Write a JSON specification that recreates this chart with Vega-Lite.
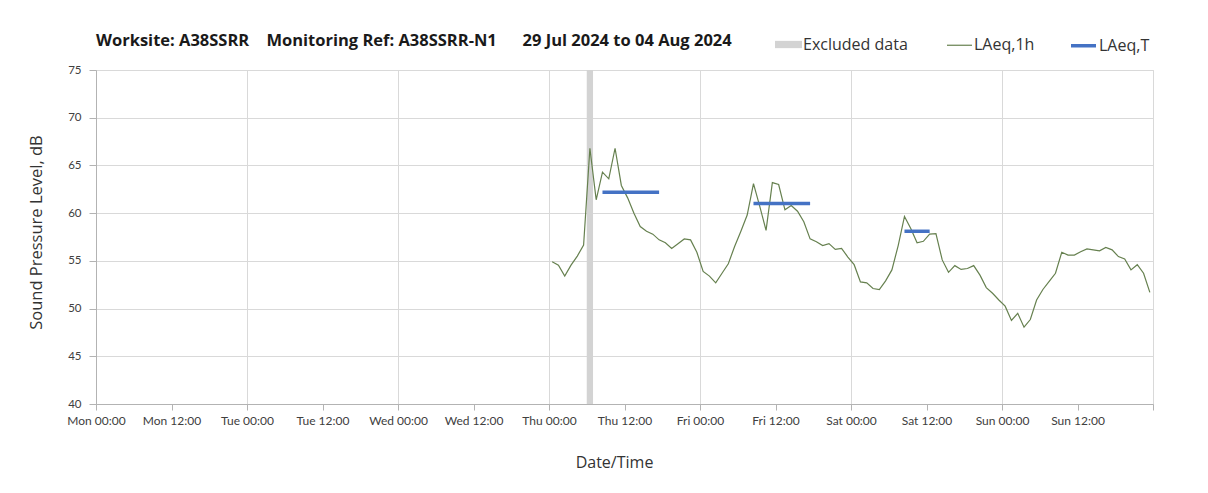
{
  "$schema": "https://vega.github.io/schema/vega-lite/v6.json",
  "width": 1057,
  "height": 334,
  "autosize": "none",
  "padding": {"left": 96, "top": 70, "right": 55, "bottom": 89},
  "background": "white",
  "title": {
    "text": "Worksite: A38SSRR\u00a0\u00a0\u00a0\u00a0Monitoring Ref: A38SSRR-N1\u00a0\u00a0\u00a0\u00a0\u00a0\u00a029 Jul 2024 to 04 Aug 2024",
    "anchor": "start",
    "frame": "group",
    "font": "Open Sans",
    "fontSize": 16.5,
    "fontWeight": "bold",
    "color": "#1a1a1a",
    "offset": 23,
    "dy": 41
  },
  "resolve": {"axis": {"x": "independent"}},
  "config": {
    "view": {"stroke": "#d9d9d9", "strokeWidth": 1},
    "axis": {
      "labelFont": "Lato",
      "labelColor": "#404040",
      "titleFont": "Open Sans",
      "titleColor": "#333333",
      "titleFontWeight": "normal",
      "gridColor": "#d9d9d9",
      "domainColor": "#b3b3b3",
      "tickColor": "#b3b3b3"
    }
  },
  "layer": [
    {
      "data": {"values": [{"start": "2024-08-01T06:00:00", "end": "2024-08-01T07:00:00", "kind": "Excluded data"}]},
      "mark": {"type": "rect"},
      "encoding": {
        "x": {
          "field": "start",
          "type": "temporal",
          "scale": {"domain": ["2024-07-29T00:00:00", "2024-08-05T00:00:00"], "nice": false},
          "axis": {
            "orient": "bottom",
            "title": "Date/Time",
            "titleFontSize": 16,
            "titlePadding": 28,
            "titleX": 518,
            "values": ["2024-07-29T00:00:00", "2024-07-29T12:00:00", "2024-07-30T00:00:00", "2024-07-30T12:00:00", "2024-07-31T00:00:00", "2024-07-31T12:00:00", "2024-08-01T00:00:00", "2024-08-01T12:00:00", "2024-08-02T00:00:00", "2024-08-02T12:00:00", "2024-08-03T00:00:00", "2024-08-03T12:00:00", "2024-08-04T00:00:00", "2024-08-04T12:00:00", "2024-08-05T00:00:00"],
            "labelExpr": "date(datum.value) === 5 ? '' : timeFormat(datum.value, '%a %H:%M')",
            "labelFontSize": 12,
            "labelFlush": false,
            "labelOverlap": false,
            "labelBound": false,
            "tickSize": 6,
            "labelPadding": 5,
            "grid": false
          }
        },
        "x2": {"field": "end"},
        "fill": {
          "field": "kind",
          "type": "nominal",
          "scale": {"domain": ["Excluded data"], "range": ["#d3d3d3"]},
          "legend": {
            "orient": "none",
            "legendX": 679,
            "legendY": -39,
            "title": null,
            "direction": "horizontal",
            "padding": 0,
            "symbolType": "M-1,-0.27H1V0.27H-1Z",
            "symbolSize": 729,
            "symbolStrokeWidth": 0,
            "labelFont": "Open Sans",
            "labelFontSize": 16,
            "labelColor": "#333333",
            "labelOffset": 1
          }
        }
      }
    },
    {
      "data": {"values": [
        {"t": "2024-08-01T00:30:00", "v": 54.9, "series": "LAeq,1h", "seg": "h"},
        {"t": "2024-08-01T01:30:00", "v": 54.55, "series": "LAeq,1h", "seg": "h"},
        {"t": "2024-08-01T02:30:00", "v": 53.4, "series": "LAeq,1h", "seg": "h"},
        {"t": "2024-08-01T03:30:00", "v": 54.55, "series": "LAeq,1h", "seg": "h"},
        {"t": "2024-08-01T04:30:00", "v": 55.5, "series": "LAeq,1h", "seg": "h"},
        {"t": "2024-08-01T05:30:00", "v": 56.65, "series": "LAeq,1h", "seg": "h"},
        {"t": "2024-08-01T06:30:00", "v": 66.8, "series": "LAeq,1h", "seg": "h"},
        {"t": "2024-08-01T07:30:00", "v": 61.4, "series": "LAeq,1h", "seg": "h"},
        {"t": "2024-08-01T08:30:00", "v": 64.3, "series": "LAeq,1h", "seg": "h"},
        {"t": "2024-08-01T09:30:00", "v": 63.6, "series": "LAeq,1h", "seg": "h"},
        {"t": "2024-08-01T10:30:00", "v": 66.8, "series": "LAeq,1h", "seg": "h"},
        {"t": "2024-08-01T11:30:00", "v": 62.9, "series": "LAeq,1h", "seg": "h"},
        {"t": "2024-08-01T12:30:00", "v": 61.6, "series": "LAeq,1h", "seg": "h"},
        {"t": "2024-08-01T13:30:00", "v": 60.0, "series": "LAeq,1h", "seg": "h"},
        {"t": "2024-08-01T14:30:00", "v": 58.6, "series": "LAeq,1h", "seg": "h"},
        {"t": "2024-08-01T15:30:00", "v": 58.1, "series": "LAeq,1h", "seg": "h"},
        {"t": "2024-08-01T16:30:00", "v": 57.8, "series": "LAeq,1h", "seg": "h"},
        {"t": "2024-08-01T17:30:00", "v": 57.2, "series": "LAeq,1h", "seg": "h"},
        {"t": "2024-08-01T18:30:00", "v": 56.9, "series": "LAeq,1h", "seg": "h"},
        {"t": "2024-08-01T19:30:00", "v": 56.3, "series": "LAeq,1h", "seg": "h"},
        {"t": "2024-08-01T20:30:00", "v": 56.8, "series": "LAeq,1h", "seg": "h"},
        {"t": "2024-08-01T21:30:00", "v": 57.3, "series": "LAeq,1h", "seg": "h"},
        {"t": "2024-08-01T22:30:00", "v": 57.2, "series": "LAeq,1h", "seg": "h"},
        {"t": "2024-08-01T23:30:00", "v": 55.9, "series": "LAeq,1h", "seg": "h"},
        {"t": "2024-08-02T00:30:00", "v": 53.9, "series": "LAeq,1h", "seg": "h"},
        {"t": "2024-08-02T01:30:00", "v": 53.4, "series": "LAeq,1h", "seg": "h"},
        {"t": "2024-08-02T02:30:00", "v": 52.7, "series": "LAeq,1h", "seg": "h"},
        {"t": "2024-08-02T03:30:00", "v": 53.7, "series": "LAeq,1h", "seg": "h"},
        {"t": "2024-08-02T04:30:00", "v": 54.7, "series": "LAeq,1h", "seg": "h"},
        {"t": "2024-08-02T05:30:00", "v": 56.5, "series": "LAeq,1h", "seg": "h"},
        {"t": "2024-08-02T06:30:00", "v": 58.1, "series": "LAeq,1h", "seg": "h"},
        {"t": "2024-08-02T07:30:00", "v": 59.8, "series": "LAeq,1h", "seg": "h"},
        {"t": "2024-08-02T08:30:00", "v": 63.1, "series": "LAeq,1h", "seg": "h"},
        {"t": "2024-08-02T09:30:00", "v": 60.7, "series": "LAeq,1h", "seg": "h"},
        {"t": "2024-08-02T10:30:00", "v": 58.2, "series": "LAeq,1h", "seg": "h"},
        {"t": "2024-08-02T11:30:00", "v": 63.2, "series": "LAeq,1h", "seg": "h"},
        {"t": "2024-08-02T12:30:00", "v": 63.0, "series": "LAeq,1h", "seg": "h"},
        {"t": "2024-08-02T13:30:00", "v": 60.35, "series": "LAeq,1h", "seg": "h"},
        {"t": "2024-08-02T14:30:00", "v": 60.8, "series": "LAeq,1h", "seg": "h"},
        {"t": "2024-08-02T15:30:00", "v": 60.2, "series": "LAeq,1h", "seg": "h"},
        {"t": "2024-08-02T16:30:00", "v": 59.1, "series": "LAeq,1h", "seg": "h"},
        {"t": "2024-08-02T17:30:00", "v": 57.3, "series": "LAeq,1h", "seg": "h"},
        {"t": "2024-08-02T18:30:00", "v": 57.0, "series": "LAeq,1h", "seg": "h"},
        {"t": "2024-08-02T19:30:00", "v": 56.6, "series": "LAeq,1h", "seg": "h"},
        {"t": "2024-08-02T20:30:00", "v": 56.8, "series": "LAeq,1h", "seg": "h"},
        {"t": "2024-08-02T21:30:00", "v": 56.2, "series": "LAeq,1h", "seg": "h"},
        {"t": "2024-08-02T22:30:00", "v": 56.3, "series": "LAeq,1h", "seg": "h"},
        {"t": "2024-08-02T23:30:00", "v": 55.4, "series": "LAeq,1h", "seg": "h"},
        {"t": "2024-08-03T00:30:00", "v": 54.6, "series": "LAeq,1h", "seg": "h"},
        {"t": "2024-08-03T01:30:00", "v": 52.8, "series": "LAeq,1h", "seg": "h"},
        {"t": "2024-08-03T02:30:00", "v": 52.7, "series": "LAeq,1h", "seg": "h"},
        {"t": "2024-08-03T03:30:00", "v": 52.1, "series": "LAeq,1h", "seg": "h"},
        {"t": "2024-08-03T04:30:00", "v": 52.0, "series": "LAeq,1h", "seg": "h"},
        {"t": "2024-08-03T05:30:00", "v": 52.9, "series": "LAeq,1h", "seg": "h"},
        {"t": "2024-08-03T06:30:00", "v": 54.05, "series": "LAeq,1h", "seg": "h"},
        {"t": "2024-08-03T07:30:00", "v": 56.6, "series": "LAeq,1h", "seg": "h"},
        {"t": "2024-08-03T08:30:00", "v": 59.65, "series": "LAeq,1h", "seg": "h"},
        {"t": "2024-08-03T09:30:00", "v": 58.4, "series": "LAeq,1h", "seg": "h"},
        {"t": "2024-08-03T10:30:00", "v": 56.9, "series": "LAeq,1h", "seg": "h"},
        {"t": "2024-08-03T11:30:00", "v": 57.05, "series": "LAeq,1h", "seg": "h"},
        {"t": "2024-08-03T12:30:00", "v": 57.8, "series": "LAeq,1h", "seg": "h"},
        {"t": "2024-08-03T13:30:00", "v": 57.85, "series": "LAeq,1h", "seg": "h"},
        {"t": "2024-08-03T14:30:00", "v": 55.1, "series": "LAeq,1h", "seg": "h"},
        {"t": "2024-08-03T15:30:00", "v": 53.8, "series": "LAeq,1h", "seg": "h"},
        {"t": "2024-08-03T16:30:00", "v": 54.5, "series": "LAeq,1h", "seg": "h"},
        {"t": "2024-08-03T17:30:00", "v": 54.1, "series": "LAeq,1h", "seg": "h"},
        {"t": "2024-08-03T18:30:00", "v": 54.2, "series": "LAeq,1h", "seg": "h"},
        {"t": "2024-08-03T19:30:00", "v": 54.5, "series": "LAeq,1h", "seg": "h"},
        {"t": "2024-08-03T20:30:00", "v": 53.5, "series": "LAeq,1h", "seg": "h"},
        {"t": "2024-08-03T21:30:00", "v": 52.2, "series": "LAeq,1h", "seg": "h"},
        {"t": "2024-08-03T22:30:00", "v": 51.6, "series": "LAeq,1h", "seg": "h"},
        {"t": "2024-08-03T23:30:00", "v": 50.9, "series": "LAeq,1h", "seg": "h"},
        {"t": "2024-08-04T00:30:00", "v": 50.25, "series": "LAeq,1h", "seg": "h"},
        {"t": "2024-08-04T01:30:00", "v": 48.75, "series": "LAeq,1h", "seg": "h"},
        {"t": "2024-08-04T02:30:00", "v": 49.5, "series": "LAeq,1h", "seg": "h"},
        {"t": "2024-08-04T03:30:00", "v": 48.05, "series": "LAeq,1h", "seg": "h"},
        {"t": "2024-08-04T04:30:00", "v": 48.85, "series": "LAeq,1h", "seg": "h"},
        {"t": "2024-08-04T05:30:00", "v": 50.9, "series": "LAeq,1h", "seg": "h"},
        {"t": "2024-08-04T06:30:00", "v": 52.0, "series": "LAeq,1h", "seg": "h"},
        {"t": "2024-08-04T07:30:00", "v": 52.85, "series": "LAeq,1h", "seg": "h"},
        {"t": "2024-08-04T08:30:00", "v": 53.7, "series": "LAeq,1h", "seg": "h"},
        {"t": "2024-08-04T09:30:00", "v": 55.9, "series": "LAeq,1h", "seg": "h"},
        {"t": "2024-08-04T10:30:00", "v": 55.6, "series": "LAeq,1h", "seg": "h"},
        {"t": "2024-08-04T11:30:00", "v": 55.6, "series": "LAeq,1h", "seg": "h"},
        {"t": "2024-08-04T12:30:00", "v": 55.95, "series": "LAeq,1h", "seg": "h"},
        {"t": "2024-08-04T13:30:00", "v": 56.25, "series": "LAeq,1h", "seg": "h"},
        {"t": "2024-08-04T14:30:00", "v": 56.15, "series": "LAeq,1h", "seg": "h"},
        {"t": "2024-08-04T15:30:00", "v": 56.05, "series": "LAeq,1h", "seg": "h"},
        {"t": "2024-08-04T16:30:00", "v": 56.4, "series": "LAeq,1h", "seg": "h"},
        {"t": "2024-08-04T17:30:00", "v": 56.15, "series": "LAeq,1h", "seg": "h"},
        {"t": "2024-08-04T18:30:00", "v": 55.45, "series": "LAeq,1h", "seg": "h"},
        {"t": "2024-08-04T19:30:00", "v": 55.2, "series": "LAeq,1h", "seg": "h"},
        {"t": "2024-08-04T20:30:00", "v": 54.05, "series": "LAeq,1h", "seg": "h"},
        {"t": "2024-08-04T21:30:00", "v": 54.6, "series": "LAeq,1h", "seg": "h"},
        {"t": "2024-08-04T22:30:00", "v": 53.7, "series": "LAeq,1h", "seg": "h"},
        {"t": "2024-08-04T23:30:00", "v": 51.7, "series": "LAeq,1h", "seg": "h"},
        {"t": "2024-08-01T08:30:00", "v": 62.2, "series": "LAeq,T", "seg": "thu"},
        {"t": "2024-08-01T17:30:00", "v": 62.2, "series": "LAeq,T", "seg": "thu"},
        {"t": "2024-08-02T08:30:00", "v": 61.0, "series": "LAeq,T", "seg": "fri"},
        {"t": "2024-08-02T17:30:00", "v": 61.0, "series": "LAeq,T", "seg": "fri"},
        {"t": "2024-08-03T08:30:00", "v": 58.1, "series": "LAeq,T", "seg": "sat"},
        {"t": "2024-08-03T12:30:00", "v": 58.1, "series": "LAeq,T", "seg": "sat"}
      ]},
      "mark": {"type": "line", "strokeCap": "butt"},
      "encoding": {
        "x": {
          "field": "t",
          "type": "temporal",
          "axis": {
            "orient": "bottom",
            "title": null,
            "values": ["2024-07-29T00:00:00", "2024-07-30T00:00:00", "2024-07-31T00:00:00", "2024-08-01T00:00:00", "2024-08-02T00:00:00", "2024-08-03T00:00:00", "2024-08-04T00:00:00", "2024-08-05T00:00:00"],
            "grid": true,
            "labels": false,
            "ticks": false,
            "domain": false
          }
        },
        "y": {
          "field": "v",
          "type": "quantitative",
          "scale": {"domain": [40, 75], "nice": false, "zero": false},
          "axis": {
            "title": "Sound Pressure Level, dB",
            "titleFontSize": 16.5,
            "titlePadding": 23,
            "titleY": 162,
            "values": [40, 45, 50, 55, 60, 65, 70, 75],
            "labelFontSize": 11.5,
            "tickSize": 7,
            "labelPadding": 8,
            "grid": true
          }
        },
        "detail": {"field": "seg", "type": "nominal"},
        "stroke": {
          "field": "series",
          "type": "nominal",
          "scale": {"domain": ["LAeq,1h", "LAeq,T"], "range": ["#66804f", "#4472c4"]},
          "legend": {
            "orient": "none",
            "legendX": 850,
            "legendY": -39,
            "title": null,
            "direction": "horizontal",
            "padding": 0,
            "symbolType": "stroke",
            "symbolSize": 625,
            "columnPadding": 29,
            "labelFont": "Open Sans",
            "labelFontSize": 16,
            "labelColor": "#333333",
            "labelOffset": 1
          }
        },
        "strokeWidth": {
          "field": "series",
          "type": "nominal",
          "scale": {"domain": ["LAeq,1h", "LAeq,T"], "range": [1.2, 3.5]},
          "legend": {
            "orient": "none",
            "legendX": 850,
            "legendY": -39,
            "title": null,
            "direction": "horizontal",
            "padding": 0,
            "symbolType": "stroke",
            "symbolSize": 625,
            "columnPadding": 29,
            "labelFont": "Open Sans",
            "labelFontSize": 16,
            "labelColor": "#333333",
            "labelOffset": 1
          }
        }
      }
    }
  ]
}
